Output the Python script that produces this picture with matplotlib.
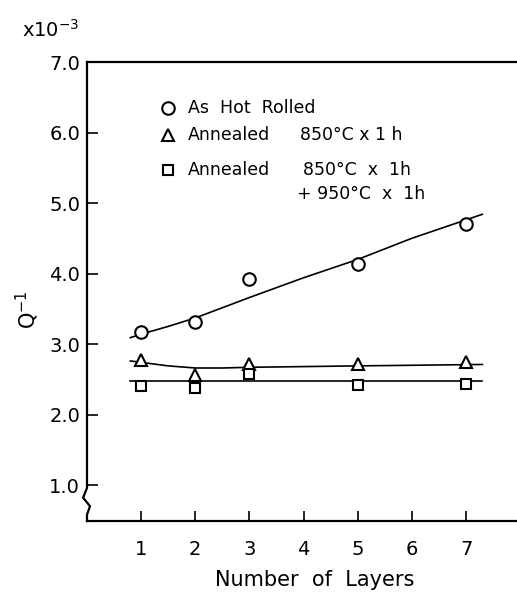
import matplotlib
matplotlib.use('Agg')
from matplotlib import pyplot as plt

plt.rcParams['font.family'] = ['DejaVu Sans']

layers = [1, 2, 3, 5, 7]
hot_rolled = [3.17, 3.31, 3.92, 4.13, 4.70]
annealed_850 = [2.78, 2.56, 2.72, 2.72, 2.74]
annealed_950 = [2.40, 2.37, 2.57, 2.42, 2.44]

# fitted curves
fit_hot_x = [0.8, 1.0, 1.5, 2.0, 3.0, 4.0, 5.0, 6.0, 7.3]
fit_hot_y = [3.09, 3.14, 3.25, 3.37, 3.66, 3.94, 4.20, 4.50, 4.84]
fit_850_x = [0.8, 1.0, 1.5, 2.0, 2.5, 3.0, 5.0, 7.3]
fit_850_y = [2.76, 2.74, 2.69, 2.66, 2.66, 2.67, 2.69, 2.71]
fit_950_x = [0.8, 7.3]
fit_950_y = [2.47, 2.47]

W, H = 517, 597
fig = plt.figure(figsize=(W / 100, H / 100), dpi=100)

def fx(px):
    return px / W

def fy(py):
    return 1 - py / H

left, right, top, bottom = 87, 517, 62, 521
ax = fig.add_axes([fx(left), fy(bottom), fx(right - left), fy(top) - fy(bottom)])

lw = 1.2
ax.plot(fit_hot_x, fit_hot_y, color='black', lw=lw)
ax.plot(fit_850_x, fit_850_y, color='black', lw=lw)
ax.plot(fit_950_x, fit_950_y, color='black', lw=lw)
ax.plot(layers, hot_rolled, 'o', ms=9, mfc='white', mec='black', mew=1.5)
ax.plot(layers, annealed_850, '^', ms=9, mfc='white', mec='black', mew=1.5)
ax.plot(layers, annealed_950, 's', ms=7.5, mfc='white', mec='black', mew=1.5)

ax.set_xlim(0, 7.94)
ax.set_ylim(0.49, 7.0)
ax.set_xticks([1, 2, 3, 4, 5, 6, 7])
ax.set_yticks([1, 2, 3, 4, 5, 6, 7])
ax.set_yticklabels(['1.0', '2.0', '3.0', '4.0', '5.0', '6.0', '7.0'])
ax.tick_params(axis='both', direction='in', width=1.2, labelsize=14, color='black')
ax.tick_params(axis='y', length=8, pad=5)
ax.tick_params(axis='x', length=7, pad=14)

for s in ['top', 'bottom']:
    ax.spines[s].set_linewidth(1.6)
ax.spines['right'].set_visible(False)
ax.spines['left'].set_visible(False)

# left spine with a break near the bottom
tr = ax.get_yaxis_transform()
brk_x = [0, 0, -0.009, 0.007, 0, 0]
brk_y = [7.0, 0.96, 0.82, 0.70, 0.58, 0.49]
ax.plot(brk_x, brk_y, color='black', lw=1.6, transform=tr,
        clip_on=False, solid_joinstyle='round')

# legend drawn by hand
mk_x = (168 - left) / (right - left)
rows = [108, 135, 170]
mk = [('o', 9), ('^', 9), ('s', 7.5)]
for (m, s), r in zip(mk, rows):
    ay = (bottom - r) / (bottom - top)
    ax.plot([mk_x], [ay], m, ms=s, mfc='white', mec='black', mew=1.5,
            transform=ax.transAxes, clip_on=False)

fs = 12.5
fig.text(fx(188), fy(rows[0]), 'As  Hot  Rolled', fontsize=fs, va='center')
fig.text(fx(188), fy(rows[1]), 'Annealed', fontsize=fs, va='center')
fig.text(fx(300), fy(rows[1]), '850\u00b0C x 1 h', fontsize=fs, va='center')
fig.text(fx(188), fy(rows[2]), 'Annealed', fontsize=fs, va='center')
fig.text(fx(303), fy(rows[2]), '850\u00b0C  x  1h', fontsize=fs, va='center')
fig.text(fx(297), fy(194), '+ 950\u00b0C  x  1h', fontsize=fs, va='center')

fig.text(fx(22), fy(30), 'x10$^{-3}$', fontsize=14, va='center')
fig.text(fx(27), fy(310), 'Q$^{-1}$', fontsize=15, va='center', ha='center', rotation=90)
fig.text(fx(315), fy(580), 'Number  of  Layers', fontsize=15, va='center', ha='center')

fig.savefig('out.png', dpi=100)
